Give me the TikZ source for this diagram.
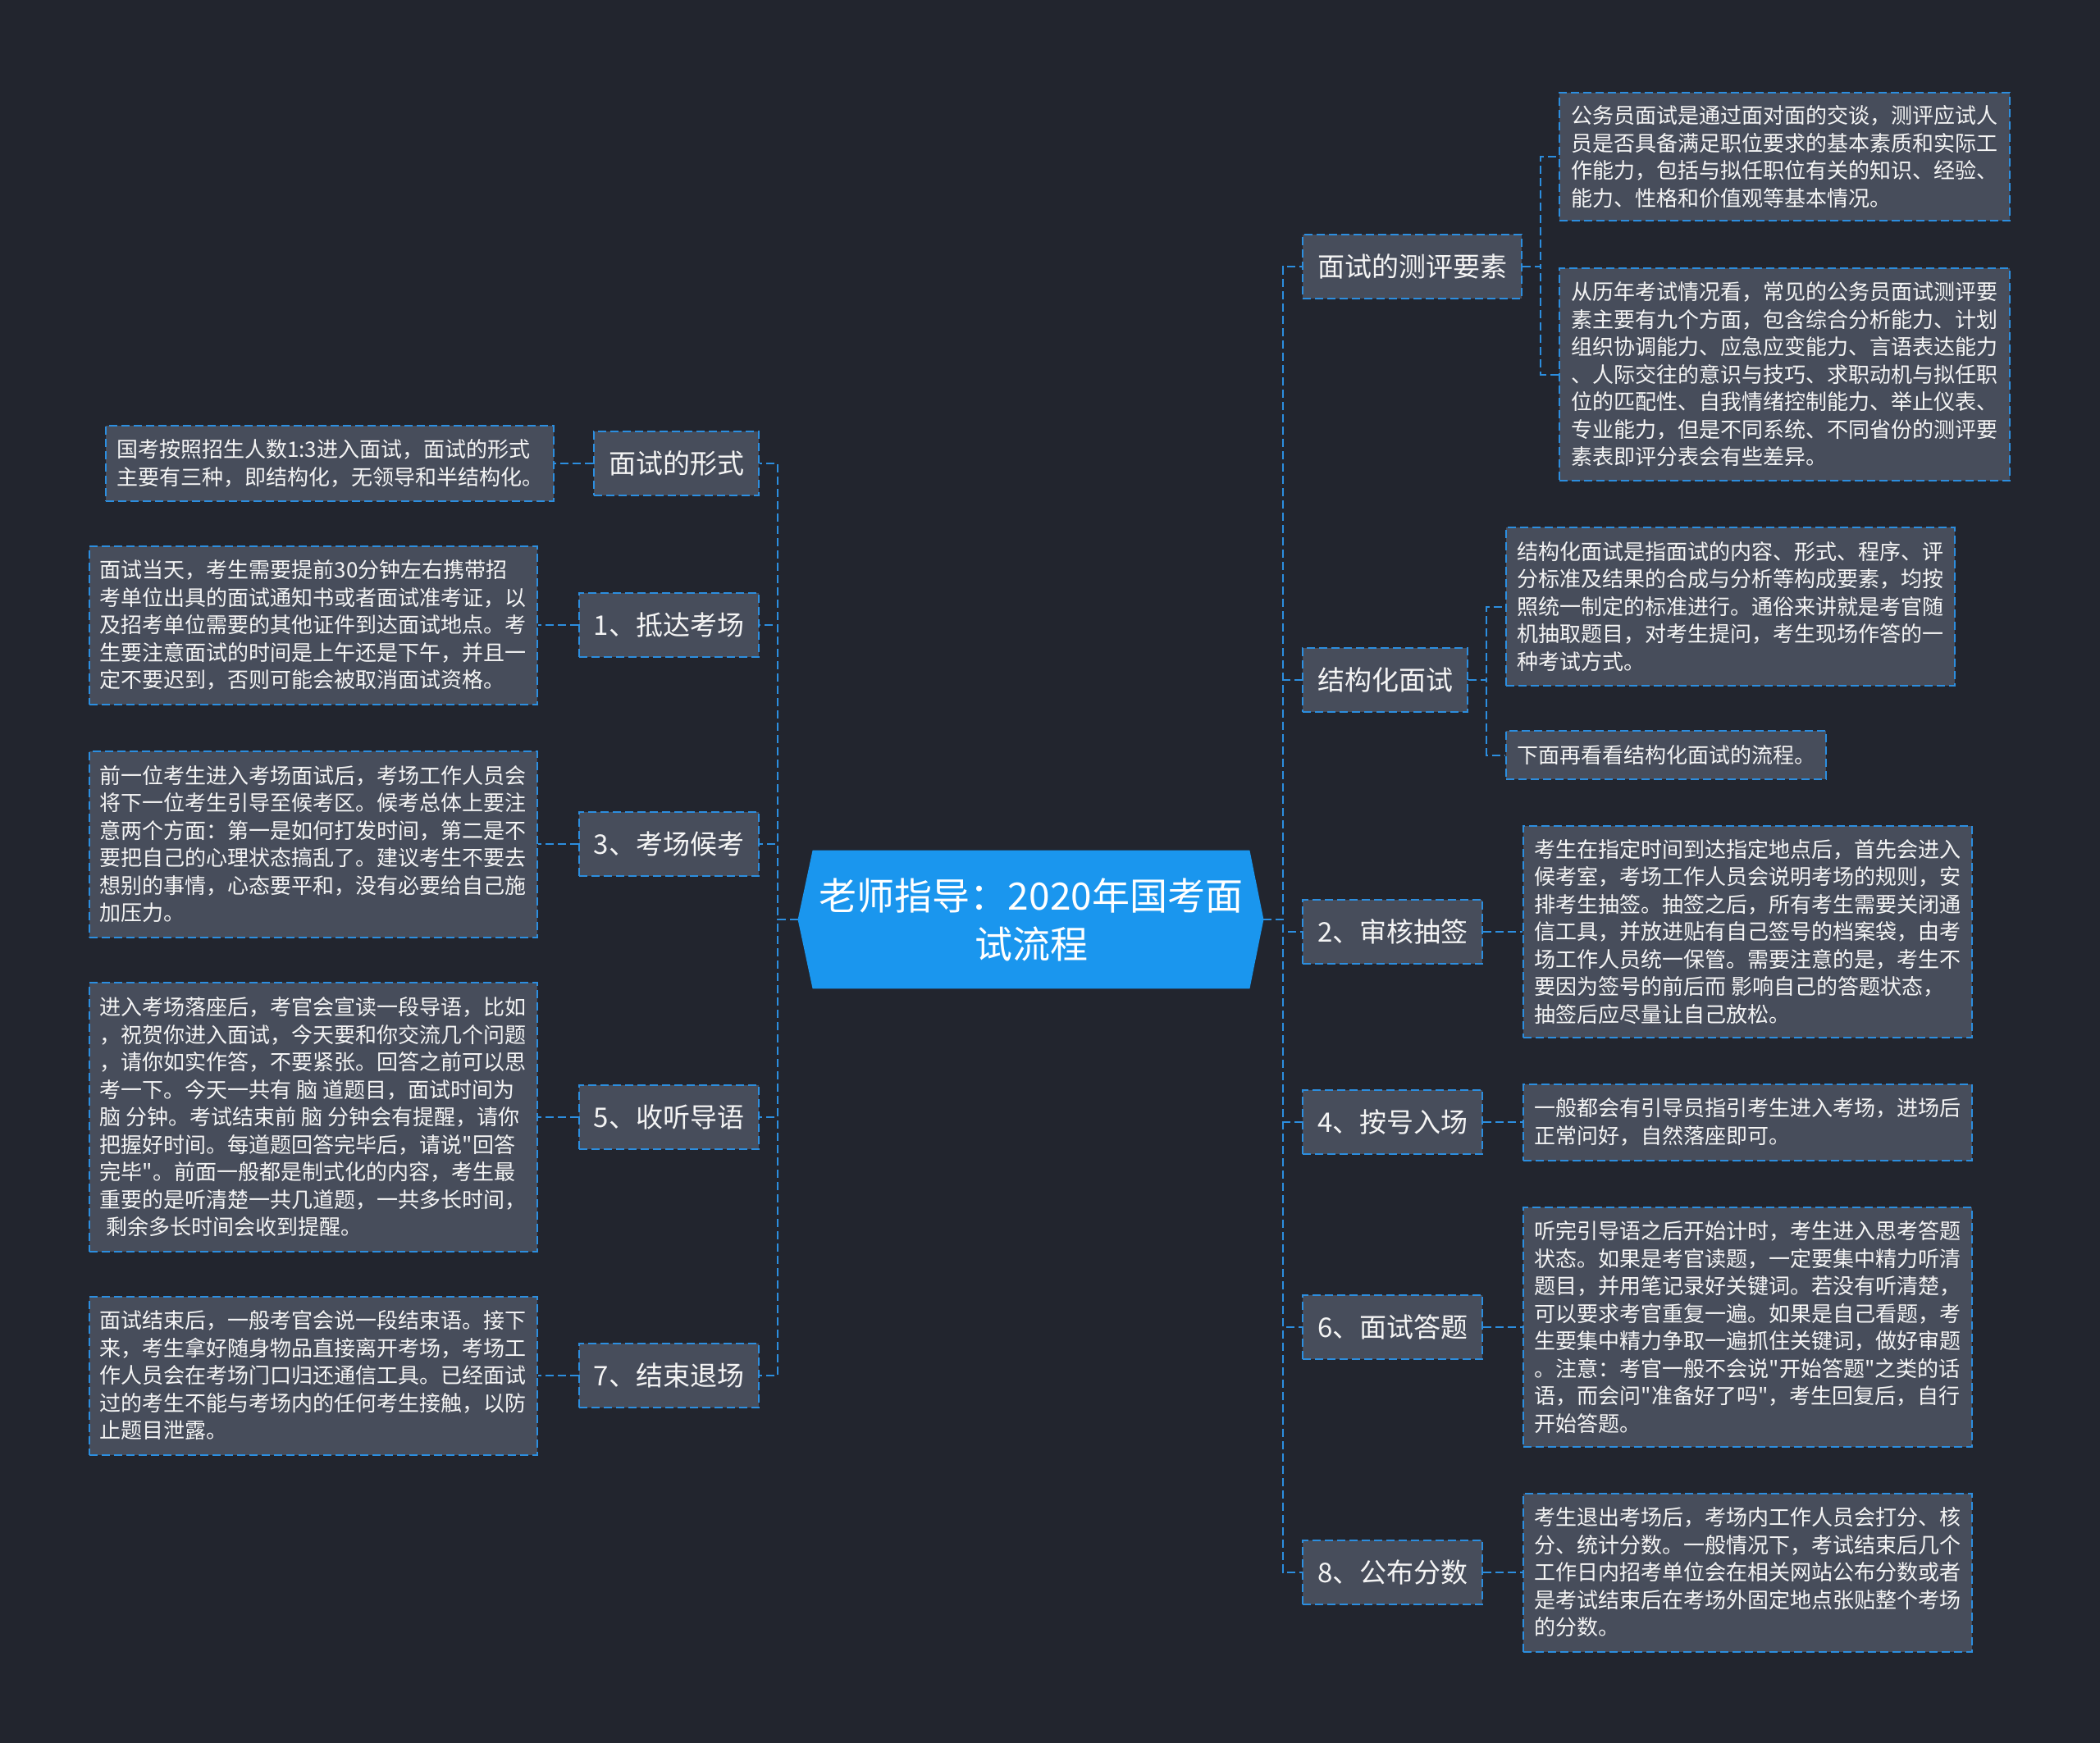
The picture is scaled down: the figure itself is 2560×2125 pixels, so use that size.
\documentclass[tikz,border=0pt]{standalone}
\usepackage{fontspec}
\newfontfamily\cjk{Noto Sans CJK SC}
\usetikzlibrary{calc,backgrounds}
\definecolor{bgc}{HTML}{22252E}
\definecolor{nodec}{HTML}{474D5B}
\definecolor{linec}{HTML}{2C8EDF}
\definecolor{hubc}{HTML}{1A96EE}
\definecolor{txtc}{HTML}{F4F4F4}
\newcommand\leaffont{\cjk\fontsize{13pt}{16.75pt}\selectfont}
\newcommand\topicfont{\cjk\fontsize{16.5pt}{20pt}\selectfont}
\newcommand\hubfont{\cjk\fontsize{23pt}{29.5pt}\selectfont}
\tikzset{
  dashline/.style={line width=1pt,dash pattern=on 5pt off 2.5pt},
  conn/.style={draw=linec,dashline},
  topic/.style={draw=linec,dashline,fill=nodec,text=txtc,font=\topicfont,
    inner xsep=9pt,inner ysep=0pt,minimum height=39pt},
  leaf/.style={draw=linec,dashline,fill=nodec,text=txtc,font=\leaffont,
    align=left,inner xsep=6.5pt,inner ysep=0pt},
  hub/.style={text=white,font=\hubfont,align=center,inner sep=0pt,
    minimum width=266pt,minimum height=84pt}
}
\begin{document}
\begin{tikzpicture}[x=0.5pt,y=-0.5pt]
\useasboundingbox (0,0) rectangle (2560,2125);
% central node
\node[hub] (hub) at (1257,1121) {老师指导：2020年国考面\\试流程};
\begin{pgfonlayer}{background}
\fill[bgc] (0,0) rectangle (2560,2125);
\fill[hubc] (hub.north west) -- (hub.north east) -- ($(hub.east)+(17,0)$) coordinate (hubR)
  -- (hub.south east) -- (hub.south west) -- ($(hub.west)+(-18,0)$) coordinate (hubL) -- cycle;
\end{pgfonlayer}
\coordinate (spL) at (948,1121);
\coordinate (spR) at (1564,1121);

% left topics
\node[topic,anchor=east] (a0) at (926,565) {面试的形式};
\node[topic,anchor=east] (a1) at (926,762) {1、抵达考场};
\node[topic,anchor=east] (a3) at (926,1029) {3、考场候考};
\node[topic,anchor=east] (a5) at (926,1362) {5、收听导语};
\node[topic,anchor=east] (a7) at (926,1677) {7、结束退场};

% left leaves
\node[leaf,anchor=east,minimum width=272.5pt,minimum height=46pt] (l0) at ($(a0.west)+(-47,0)$)
 {国考按照招生人数1:3进入面试，面试的形式\\主要有三种，即结构化，无领导和半结构化。};
\node[leaf,anchor=east,minimum width=272.5pt,minimum height=96.5pt] (l1) at ($(a1.west)+(-49,0)$)
 {面试当天，考生需要提前30分钟左右携带招\\考单位出具的面试通知书或者面试准考证，以\\及招考单位需要的其他证件到达面试地点。考\\生要注意面试的时间是上午还是下午，并且一\\定不要迟到，否则可能会被取消面试资格。};
\node[leaf,anchor=east,minimum width=272.5pt,minimum height=113.5pt] (l3) at ($(a3.west)+(-49,0)$)
 {前一位考生进入考场面试后，考场工作人员会\\将下一位考生引导至候考区。候考总体上要注\\意两个方面：第一是如何打发时间，第二是不\\要把自己的心理状态搞乱了。建议考生不要去\\想别的事情，心态要平和，没有必要给自己施\\加压力。};
\node[leaf,anchor=east,minimum width=272.5pt,minimum height=164pt] (l5) at ($(a5.west)+(-49,0)$)
 {进入考场落座后，考官会宣读一段导语，比如\\，祝贺你进入面试，今天要和你交流几个问题\\，请你如实作答，不要紧张。回答之前可以思\\考一下。今天一共有 脑 道题目，面试时间为\\脑 分钟。考试结束前 脑 分钟会有提醒，请你\\把握好时间。每道题回答完毕后，请说"回答\\完毕"。前面一般都是制式化的内容，考生最\\重要的是听清楚一共几道题，一共多长时间，\\\hspace*{0.3em}剩余多长时间会收到提醒。};
\node[leaf,anchor=east,minimum width=272.5pt,minimum height=96.5pt] (l7) at ($(a7.west)+(-49,0)$)
 {面试结束后，一般考官会说一段结束语。接下\\来，考生拿好随身物品直接离开考场，考场工\\作人员会在考场门口归还通信工具。已经面试\\过的考生不能与考场内的任何考生接触，以防\\止题目泄露。};

% right topics
\node[topic,anchor=west] (b0) at (1587,325) {面试的测评要素};
\node[topic,anchor=west] (b1) at (1587,829) {结构化面试};
\node[topic,anchor=west] (b2) at (1587,1136) {2、审核抽签};
\node[topic,anchor=west] (b4) at (1587,1368) {4、按号入场};
\node[topic,anchor=west] (b6) at (1587,1618) {6、面试答题};
\node[topic,anchor=west] (b8) at (1587,1917) {8、公布分数};

% right leaves
\node[leaf,anchor=west,minimum width=274.5pt,minimum height=78pt] (r0a) at (1900,191)
 {公务员面试是通过面对面的交谈，测评应试人\\员是否具备满足职位要求的基本素质和实际工\\作能力，包括与拟任职位有关的知识、经验、\\能力、性格和价值观等基本情况。};
\node[leaf,anchor=west,minimum width=274.5pt,minimum height=129.5pt] (r0b) at (1900,456.5)
 {从历年考试情况看，常见的公务员面试测评要\\素主要有九个方面，包含综合分析能力、计划\\组织协调能力、应急应变能力、言语表达能力\\、人际交往的意识与技巧、求职动机与拟任职\\位的匹配性、自我情绪控制能力、举止仪表、\\专业能力，但是不同系统、不同省份的测评要\\素表即评分表会有些差异。};
\node[leaf,anchor=west,minimum width=273.5pt,minimum height=96.5pt] (r1a) at (1835,739.5)
 {结构化面试是指面试的内容、形式、程序、评\\分标准及结果的合成与分析等构成要素，均按\\照统一制定的标准进行。通俗来讲就是考官随\\机抽取题目，对考生提问，考生现场作答的一\\种考试方式。};
\node[leaf,anchor=west,minimum height=29.5pt] (r1b) at (1835,920.5)
 {下面再看看结构化面试的流程。};
\node[leaf,anchor=west,minimum width=273.5pt,minimum height=129pt] (r2) at ($(b2.east)+(48,0)$)
 {考生在指定时间到达指定地点后，首先会进入\\候考室，考场工作人员会说明考场的规则，安\\排考生抽签。抽签之后，所有考生需要关闭通\\信工具，并放进贴有自己签号的档案袋，由考\\场工作人员统一保管。需要注意的是，考生不\\要因为签号的前后而 影响自己的答题状态，\\抽签后应尽量让自己放松。};
\node[leaf,anchor=west,minimum width=273.5pt,minimum height=46.5pt] (r4) at ($(b4.east)+(48,0)$)
 {一般都会有引导员指引考生进入考场，进场后\\正常问好，自然落座即可。};
\node[leaf,anchor=west,minimum width=273.5pt,minimum height=146pt] (r6) at ($(b6.east)+(48,0)$)
 {听完引导语之后开始计时，考生进入思考答题\\状态。如果是考官读题，一定要集中精力听清\\题目，并用笔记录好关键词。若没有听清楚，\\可以要求考官重复一遍。如果是自己看题，考\\生要集中精力争取一遍抓住关键词，做好审题\\。注意：考官一般不会说"开始答题"之类的话\\语，而会问"准备好了吗"，考生回复后，自行\\开始答题。};
\node[leaf,anchor=west,minimum width=273.5pt,minimum height=96.5pt] (r8) at ($(b8.east)+(48,0)$)
 {考生退出考场后，考场内工作人员会打分、核\\分、统计分数。一般情况下，考试结束后几个\\工作日内招考单位会在相关网站公布分数或者\\是考试结束后在考场外固定地点张贴整个考场\\的分数。};

% connectors hub -> topics
\foreach \n in {a0,a1,a3,a5,a7} \draw[conn] (hubL) -- (spL) |- (\n.east);
\foreach \n in {b0,b1,b2,b4,b6,b8} \draw[conn] (hubR) -- (spR) |- (\n.west);

% topics -> leaves
\foreach \t/\l in {a0/l0,a1/l1,a3/l3,a5/l5,a7/l7} \draw[conn] (\t.west) -- (\l.east);
\foreach \t/\l in {b2/r2,b4/r4,b6/r6,b8/r8} \draw[conn] (\t.east) -- (\l.west);
\coordinate (br0) at (1878,325);
\coordinate (br1) at (1812,829);
\draw[conn] (b0.east) -- (br0) |- (r0a.west);
\draw[conn] (b0.east) -- (br0) |- (r0b.west);
\draw[conn] (b1.east) -- (br1) |- (r1a.west);
\draw[conn] (b1.east) -- (br1) |- (r1b.west);
\end{tikzpicture}
\end{document}
